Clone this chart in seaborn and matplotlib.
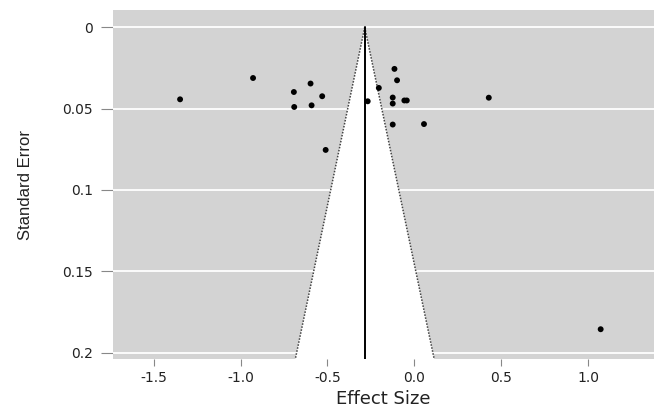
import numpy as np
import pandas as pd
import matplotlib
matplotlib.use("Agg")
import matplotlib.pyplot as plt
import seaborn as sns

# ---- data ----
effect_size = [-1.348, -0.928, -0.693, -0.691, -0.597, -0.591, -0.530, -0.510,
               -0.268, -0.204, -0.114, -0.099, -0.124, -0.124, -0.124,
               -0.057, -0.043, 0.056, 0.429, 1.073]
std_error = [0.0443, 0.0312, 0.0398, 0.0490, 0.0346, 0.0480, 0.0424, 0.0754,
             0.0455, 0.0373, 0.0256, 0.0326, 0.0432, 0.0469, 0.0598,
             0.0450, 0.0450, 0.0595, 0.0433, 0.1856]
pooled_effect = -0.285
z_crit = 1.96
x_ticks = [-1.5, -1.0, -0.5, 0.0, 0.5, 1.0]
x_tick_labels = ["-1.5", "-1.0", "-0.5", "0.0", "0.5", "1.0"]
y_ticks = [0, 0.05, 0.1, 0.15, 0.2]
y_tick_labels = ["0", "0.05", "0.1", "0.15", "0.2"]

df = pd.DataFrame({"Effect Size": effect_size, "Standard Error": std_error})

sns.set_theme(style="white")
plt.rcParams["font.family"] = ["DejaVu Sans"]

fig = plt.figure(figsize=(6.54, 4.09), dpi=100)
ax = fig.add_axes([112.5 / 654, 1 - 359 / 409, 1 - 112.5 / 654, (359 - 10) / 409])

xlim = (-1.737, 1.38)
ylim = (0.2039, -0.0106)
panel_grey = "#d3d3d3"
ax.set_facecolor(panel_grey)

# funnel (pseudo confidence region)
se_max = ylim[0]
se_line = np.array([0.0, se_max])
left = pooled_effect - z_crit * se_line
right = pooled_effect + z_crit * se_line
ax.fill(np.r_[pooled_effect, left[1], right[1]], np.r_[0, se_max, se_max],
        color="white", zorder=1, lw=0)

# horizontal grid lines
for yt in y_ticks:
    ax.axhline(yt, color="white", lw=1.3, zorder=1.5)

ax.plot(left, se_line, color="#444444", lw=1.1, ls=(0, (1, 1)), zorder=2)
ax.plot(right, se_line, color="#444444", lw=1.1, ls=(0, (1, 1)), zorder=2)
ax.plot([pooled_effect, pooled_effect], [0, se_max], color="black", lw=1.4, zorder=2)

sns.scatterplot(data=df, x="Effect Size", y="Standard Error", ax=ax,
                color="black", s=18, edgecolor="none", zorder=3)

ax.set_xlim(*xlim)
ax.set_ylim(*ylim)
ax.set_xticks(x_ticks)
ax.set_xticklabels(x_tick_labels)
ax.set_yticks(y_ticks)
ax.set_yticklabels(y_tick_labels)
for s in ax.spines.values():
    s.set_visible(False)

ax.tick_params(axis="x", length=5, width=0.8, color="#888888", pad=4,
               labelsize=10, labelcolor="#222222", bottom=True)
ax.tick_params(axis="y", length=9, width=0.8, color="#888888", pad=5,
               labelsize=10, labelcolor="#222222", left=True)
ax.grid(False)
ax.set_xlabel("Effect Size", fontsize=13, color="#222222", labelpad=3)
ax.set_ylabel("Standard Error", fontsize=12, color="#222222",
              family=["Liberation Sans", "DejaVu Sans"])
ax.yaxis.set_label_coords(-(112.5 - 33) / 541.5, 0.5)

fig.savefig("out.png", dpi=100)
